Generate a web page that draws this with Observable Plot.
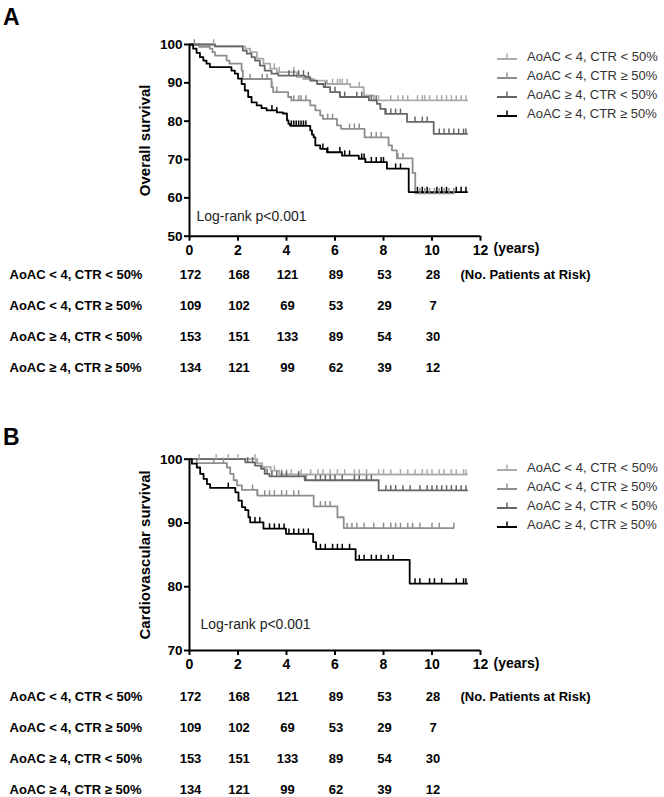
<!DOCTYPE html>
<html><head><meta charset="utf-8">
<script src="https://cdn.jsdelivr.net/npm/d3@7"></script>
<script src="https://cdn.jsdelivr.net/npm/@observablehq/plot@0.6"></script>
<style>
body{margin:0;background:#fff;}
#root{position:relative;width:664px;height:797px;overflow:hidden;background:#fff;font-family:"Liberation Sans",Arial,sans-serif;}
#root > *{position:absolute;}
.panel-letter{font-weight:bold;font-size:23px;color:#000;}
.legend{font-size:13px;color:#333;}
.legend .row{display:flex;align-items:center;height:18.9px;white-space:nowrap;}
.legend svg{margin-right:9px;}
</style></head>
<body><div id="root"></div>
<script>
// ---------- data ----------
const seriesNames = ["AoAC < 4, CTR < 50%", "AoAC < 4, CTR \u2265 50%", "AoAC \u2265 4, CTR < 50%", "AoAC \u2265 4, CTR \u2265 50%"];
const xTicks = [0, 2, 4, 6, 8, 10, 12];
const yTicksA = [50, 60, 70, 80, 90, 100];
const yTicksB = [70, 80, 90, 100];
const riskTimes = [0, 2, 4, 6, 8, 10];
const risk1 = [172, 168, 121, 89, 53, 28];
const risk2 = [109, 102, 69, 53, 29, 7];
const risk3 = [153, 151, 133, 89, 54, 30];
const risk4 = [134, 121, 99, 62, 39, 12];

// Panel A: overall survival (step times in years, survival %)
const osTime1 = [0, 1.05, 2.3, 2.5, 2.78, 3.05, 3.33, 3.6, 4.43, 4.7, 5.12, 5.67, 6.63, 7.18, 7.6, 11.45];
const osSurv1 = [100, 99.5, 98.9, 98.0, 96.3, 95.0, 93.7, 92.8, 91.5, 91.0, 90.6, 89.7, 88.9, 86.7, 85.4, 85.4];
const osTime2 = [0, 0.4, 0.84, 0.95, 1.05, 1.53, 1.65, 2.15, 2.2, 3.38, 3.45, 4.07, 4.2, 4.98, 5.19, 5.39, 5.5, 6.08, 6.25, 7.22, 8.21, 8.35, 8.55, 9.2, 9.31, 10.9];
const osSurv2 = [100, 99.4, 98.9, 98.0, 97.1, 95.8, 95.0, 93.2, 91.0, 88.9, 87.6, 86.3, 85.4, 84.1, 82.8, 81.5, 80.6, 78.9, 78.0, 75.8, 73.7, 72.4, 70.3, 66.5, 61.2, 61.2];
const osTime3 = [0, 1.05, 2.2, 2.36, 2.56, 2.7, 2.9, 3.1, 3.38, 3.66, 4.77, 4.98, 5.26, 5.53, 5.8, 6.2, 7.4, 7.73, 7.87, 8.07, 8.97, 10.07, 11.45];
const osSurv3 = [100, 99.5, 98.4, 97.6, 96.7, 95.8, 94.5, 93.2, 92.4, 91.9, 91.5, 90.6, 89.7, 88.9, 87.6, 86.3, 85.4, 84.5, 83.2, 81.9, 79.8, 76.7, 76.7];
const osTime4 = [0, 0.15, 0.29, 0.43, 0.57, 0.7, 0.84, 1.73, 1.87, 2.0, 2.15, 2.28, 2.42, 2.56, 2.77, 2.97, 3.18, 3.6, 3.85, 4.02, 4.08, 4.15, 4.98, 5.05, 5.12, 5.19, 5.39, 5.67, 6.29, 6.98, 7.25, 8.14, 9.04, 11.45];
const osSurv4 = [100, 98.9, 97.8, 96.7, 95.8, 95.0, 94.1, 93.2, 92.4, 91.1, 89.7, 88.0, 86.3, 84.9, 84.1, 83.4, 82.8, 82.3, 82.0, 80.2, 79.3, 78.8, 77.6, 76.5, 75.8, 73.7, 72.8, 71.9, 71.0, 70.2, 69.3, 67.6, 61.5, 61.5];
const osCensor1 = [1.0, 3.5, 3.7, 4.3, 4.5, 5.9, 6.1, 6.2, 6.3, 6.5, 7.0, 7.2, 7.8, 8.3, 8.6, 8.8, 9.0, 9.4, 9.6, 9.7, 9.9, 10.2, 10.4, 10.6, 10.8, 11.0, 11.2, 11.4];
const osCensor2 = [0.2, 2.5, 3.0, 3.2, 3.4, 3.6, 4.3, 4.5, 4.6, 4.8, 5.7, 5.9, 6.6, 6.8, 7.0, 7.5, 7.7, 7.9, 8.6, 8.8, 9.5, 9.7, 9.9, 10.1, 10.3, 10.5, 10.7, 10.9];
const osCensor3 = [4.1, 4.3, 4.5, 4.7, 4.9, 5.6, 6.0, 6.2, 6.4, 6.9, 7.1, 7.5, 7.7, 8.1, 8.3, 8.5, 8.7, 9.3, 9.6, 9.8, 10.3, 10.5, 10.7, 10.9, 11.1, 11.3, 11.4];
const osCensor4 = [3.4, 3.6, 4.2, 4.3, 4.4, 4.5, 4.6, 4.7, 4.8, 5.5, 5.7, 6.2, 6.4, 6.6, 7.1, 7.2, 7.5, 7.7, 7.9, 8.0, 8.5, 8.7, 9.4, 9.6, 9.8, 10.2, 10.4, 10.6, 11.0, 11.2, 11.4];

// Panel B: cardiovascular survival
const cvTime1 = [0, 2.75, 3.0, 3.35, 3.7, 11.45];
const cvSurv1 = [100, 99.4, 98.8, 98.2, 97.6, 97.6];
const cvTime2 = [0, 0.3, 1.54, 1.68, 1.82, 1.96, 2.16, 2.8, 5.12, 6.1, 6.36, 10.9];
const cvSurv2 = [100, 99.4, 98.7, 97.7, 96.7, 95.9, 95.2, 94.3, 92.6, 90.9, 89.2, 89.2];
const cvTime3 = [0, 2.3, 2.7, 2.95, 3.1, 3.3, 4.75, 7.8, 11.45];
const cvSurv3 = [100, 99.5, 99.0, 98.5, 97.7, 97.3, 96.7, 95.1, 95.1];
const cvTime4 = [0, 0.1, 0.3, 0.44, 0.58, 0.72, 0.85, 1.89, 2.02, 2.16, 2.3, 2.43, 2.5, 3.05, 3.98, 5.1, 5.22, 6.85, 9.08, 11.45];
const cvSurv4 = [100, 99.3, 98.7, 97.7, 96.9, 96.1, 95.5, 94.8, 93.5, 92.5, 92.0, 90.9, 90.1, 89.1, 88.3, 87.0, 85.9, 84.2, 80.5, 80.5];
const cvCensor1 = [0.4, 1.1, 1.6, 2.0, 2.7, 2.8, 3.5, 3.8, 4.0, 4.2, 4.6, 5.0, 5.3, 5.5, 5.8, 6.1, 6.4, 6.8, 7.0, 7.3, 7.8, 8.0, 8.3, 8.7, 9.0, 9.3, 9.6, 9.8, 10.0, 10.3, 10.5, 10.8, 11.0, 11.3, 11.4];
const cvCensor2 = [1.0, 1.4, 2.6, 2.8, 3.1, 3.3, 3.5, 3.8, 4.0, 4.3, 4.5, 5.4, 5.6, 5.8, 6.5, 6.7, 6.9, 7.2, 7.6, 8.0, 8.3, 8.5, 8.7, 9.0, 9.2, 9.5, 10.0, 10.3, 10.9];
const cvCensor3 = [2.4, 2.6, 3.2, 3.4, 3.6, 3.8, 4.0, 4.5, 4.8, 5.2, 5.4, 5.6, 5.8, 6.0, 6.3, 6.8, 7.0, 7.3, 7.5, 8.1, 8.3, 8.5, 8.8, 9.1, 9.5, 9.8, 10.0, 10.2, 10.4, 10.6, 10.8, 11.0, 11.2, 11.4];
const cvCensor4 = [1.6, 2.7, 2.9, 3.3, 3.5, 3.7, 3.9, 4.1, 4.3, 4.5, 4.7, 4.9, 5.4, 5.6, 5.9, 6.1, 6.3, 6.6, 7.0, 7.2, 7.5, 7.7, 7.9, 8.2, 8.4, 9.3, 9.5, 9.9, 10.1, 10.4, 11.0, 11.3, 11.4];

// ---------- styling ----------
const colors = ["#ababab", "#8e8e8e", "#666666", "#000000"];
const FONT = '"Liberation Sans", Arial, sans-serif';
const M = {left: 189, right: 184};

const censorSymbol = {draw(ctx, size) { const h = Math.sqrt(size); ctx.moveTo(0, 0); ctx.lineTo(0, -h); }};

function stepValue(times, surv, t) {
  let v = surv[0];
  for (let i = 0; i < times.length; i++) if (times[i] <= t) v = surv[i];
  return v;
}

function buildRows(timesArr, survArr, censorArr) {
  const curve = [], cens = [];
  seriesNames.forEach((s, i) => {
    timesArr[i].forEach((t, j) => curve.push({s, t, v: survArr[i][j]}));
    const tEnd = timesArr[i][timesArr[i].length - 1];
    censorArr[i].forEach(c => { if (c <= tEnd) cens.push({s, t: c, v: stepValue(timesArr[i], survArr[i], c)}); });
  });
  return {curve, cens};
}

function chart({yDomain, yTicks, marginTop, plotH, yTitle, logDx, logDy, timesArr, survArr, censorArr}) {
  const {curve, cens} = buildRows(timesArr, survArr, censorArr);
  const marginBottom = 30;
  return Plot.plot({
    width: 664, height: marginTop + plotH + marginBottom,
    marginLeft: M.left, marginRight: M.right, marginTop, marginBottom,
    x: {domain: [0, 12]},
    y: {domain: yDomain},
    color: {domain: seriesNames, range: colors},
    style: {fontFamily: FONT, background: "transparent", overflow: "visible", color: "#000"},
    marks: [
      Plot.axisX({ticks: xTicks, tickSize: 5, tickPadding: 4, fontSize: 14, fontWeight: "bold", label: null, strokeWidth: 2, tickFormat: d => String(d)}),
      Plot.axisY({ticks: yTicks, tickSize: 5, tickPadding: 2, fontSize: 13.5, fontWeight: "bold", label: null, strokeWidth: 2}),
      Plot.line(curve, {x: "t", y: "v", z: "s", stroke: "s", curve: "step-after", strokeWidth: 1.8}),
      Plot.dot(cens, {x: "t", y: "v", symbol: censorSymbol, r: 3, stroke: "s", fill: "none", strokeWidth: 1.5}),
      Plot.ruleY([yDomain[0]], {stroke: "#000", strokeWidth: 2}),
      Plot.ruleX([0], {stroke: "#000", strokeWidth: 2}),
      Plot.text(["(years)"], {frameAnchor: "bottom-right", textAnchor: "start", dx: 13, dy: 17, fontSize: 14, fontWeight: "bold"}),
      Plot.text(["Log-rank p<0.001"], {frameAnchor: "bottom-left", textAnchor: "start", dx: logDx, dy: logDy, fontSize: 14, fill: "#222"}),
      Plot.text([yTitle], {frameAnchor: "left", textAnchor: "middle", rotate: -90, dx: -44, fontSize: 15, fontWeight: "bold"})
    ]
  });
}

function riskTable(span) {
  const risks = [risk1, risk2, risk3, risk4];
  const rows = [];
  seriesNames.forEach((s, i) => riskTimes.forEach((t, j) => rows.push({s, t, n: risks[i][j]})));
  return Plot.plot({
    width: 664, height: 120,
    marginLeft: M.left, marginRight: M.right, marginTop: 11, marginBottom: 120 - 11 - span,
    x: {domain: [0, 12], axis: null},
    y: {type: "point", domain: seriesNames, padding: 0, axis: null},
    style: {fontFamily: FONT, background: "transparent", overflow: "visible", color: "#000"},
    marks: [
      Plot.text(rows, {x: "t", y: "s", text: "n", fontSize: 13, fontWeight: "bold", dx: 1}),
      Plot.text(seriesNames, {y: d => d, frameAnchor: "left", textAnchor: "start", dx: -180, fontSize: 13, fontWeight: "bold"}),
      Plot.text(["(No. Patients at Risk)"], {y: () => seriesNames[0], frameAnchor: "right", textAnchor: "start", dx: -20, fontSize: 13, fontWeight: "bold"})
    ]
  });
}

function legend() {
  const div = document.createElement("div");
  div.className = "legend";
  seriesNames.forEach((s, i) => {
    const row = document.createElement("div");
    row.className = "row";
    row.innerHTML = `<svg width="22" height="10"><line x1="1" x2="21" y1="8" y2="8" stroke="${colors[i]}" stroke-width="2"/><line x1="11" x2="11" y1="8" y2="2.5" stroke="${colors[i]}" stroke-width="1.5"/></svg><span>${s}</span>`;
    div.appendChild(row);
  });
  return div;
}

function place(el, top, left = 0) { el.style.top = top + "px"; el.style.left = left + "px"; root.appendChild(el); }

const root = document.getElementById("root");

const chartA = chart({yDomain: [50, 100], yTicks: yTicksA, marginTop: 44, plotH: 191.7, yTitle: "Overall survival", logDx: 7, logDy: -15,
  timesArr: [osTime1, osTime2, osTime3, osTime4], survArr: [osSurv1, osSurv2, osSurv3, osSurv4], censorArr: [osCensor1, osCensor2, osCensor3, osCensor4]});
place(chartA, 0);
place(riskTable(95), 262);

const chartB = chart({yDomain: [70, 100], yTicks: yTicksB, marginTop: 58.7, plotH: 191.3, yTitle: "Cardiovascular survival", logDx: 11, logDy: -22,
  timesArr: [cvTime1, cvTime2, cvTime3, cvTime4], survArr: [cvSurv1, cvSurv2, cvSurv3, cvSurv4], censorArr: [cvCensor1, cvCensor2, cvCensor3, cvCensor4]});
place(chartB, 400);
place(riskTable(93), 685);

const la = document.createElement("div"); la.className = "panel-letter"; la.textContent = "A"; place(la, 4, 3);
const lb = document.createElement("div"); lb.className = "panel-letter"; lb.textContent = "B"; place(lb, 424, 3);

place(legend(), 47, 496);
place(legend(), 458, 496);
</script>
</body></html>
